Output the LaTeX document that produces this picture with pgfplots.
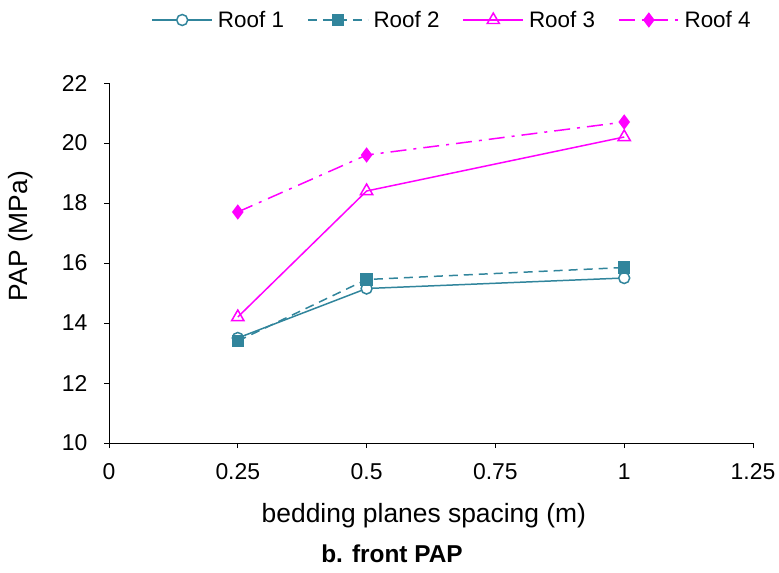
\documentclass[border=0pt]{standalone}
\usepackage{fontspec}
\setmainfont{Liberation Sans}
\usepackage{pgfplots}
\pgfplotsset{compat=1.18}
\definecolor{teal1}{HTML}{31859C}
\definecolor{mag}{HTML}{FF00FF}
\begin{document}
\begin{tikzpicture}
\useasboundingbox (0,0) rectangle (779bp,-573bp);
\begin{axis}[
  at={(109bp,-443bp)}, anchor=south west,
  scale only axis, width=644bp, height=360bp,
  xmin=0, xmax=1.25, ymin=10, ymax=22,
  xtick={0,0.25,0.5,0.75,1,1.25},
  ytick={10,12,...,22},
  axis lines=left, axis line style={-, black, line width=0.9pt},
  tick align=outside, major tick length=5bp,
  tick style={black, line width=0.9pt},
  tick label style={font=\fontsize{23}{27}\selectfont},
  /pgf/number format/assume math mode=true,
  xticklabel style={yshift=-12bp},
  yticklabel style={xshift=-13bp},
  xlabel={bedding planes spacing (m)},
  ylabel={PAP (MPa)},
  label style={font=\fontsize{26.5}{31}\selectfont},
  xlabel style={at={(axis description cs:0.489,-0.203)}, anchor=center},
  ylabel style={at={(axis description cs:-0.137,0.575)}, anchor=center},
  legend columns=4,
  legend style={at={(axis description cs:0.535,1.175)}, anchor=center, draw=none, fill=none,
    /tikz/every even column/.append style={column sep=18bp}, font=\fontsize{22.5}{26}\selectfont,
    nodes={inner xsep=5bp}},
  legend image code/.code={\draw[mark repeat=2,mark phase=2,#1] plot coordinates {(0bp,0bp) (30bp,0bp) (60bp,0bp)};},
  clip=false,
]
\addplot[teal1, line width=1.5pt, mark=*, mark size=5.5bp, mark options={solid, fill=white, line width=1.5pt}]
  coordinates {(0.25,13.5) (0.5,15.15) (1,15.5)};
\addlegendentry{Roof 1}
\addplot[teal1, line width=1.5pt, dash pattern=on 9bp off 6bp, mark=square*, mark size=5.5bp, mark options={solid, fill=teal1}]
  coordinates {(0.25,13.4) (0.5,15.45) (1,15.85)};
\addlegendentry{Roof 2}
\addplot[mag, line width=1.5pt, mark=triangle, mark size=7bp, mark options={solid, fill=white, line width=1.5pt}]
  coordinates {(0.25,14.2) (0.5,18.4) (1,20.2)};
\addlegendentry{Roof 3}
\addplot[mag, line width=1.5pt, dash pattern=on 16bp off 7bp on 3bp off 7bp, mark=diamond*, mark size=6.5bp, mark options={solid, fill=mag}]
  coordinates {(0.25,17.7) (0.5,19.6) (1,20.7)};
\addlegendentry{Roof 4}
\end{axis}
\node[font=\fontsize{24.5}{29}\selectfont\bfseries] at (392bp,-554bp) {b. front PAP};
\end{tikzpicture}
\end{document}
